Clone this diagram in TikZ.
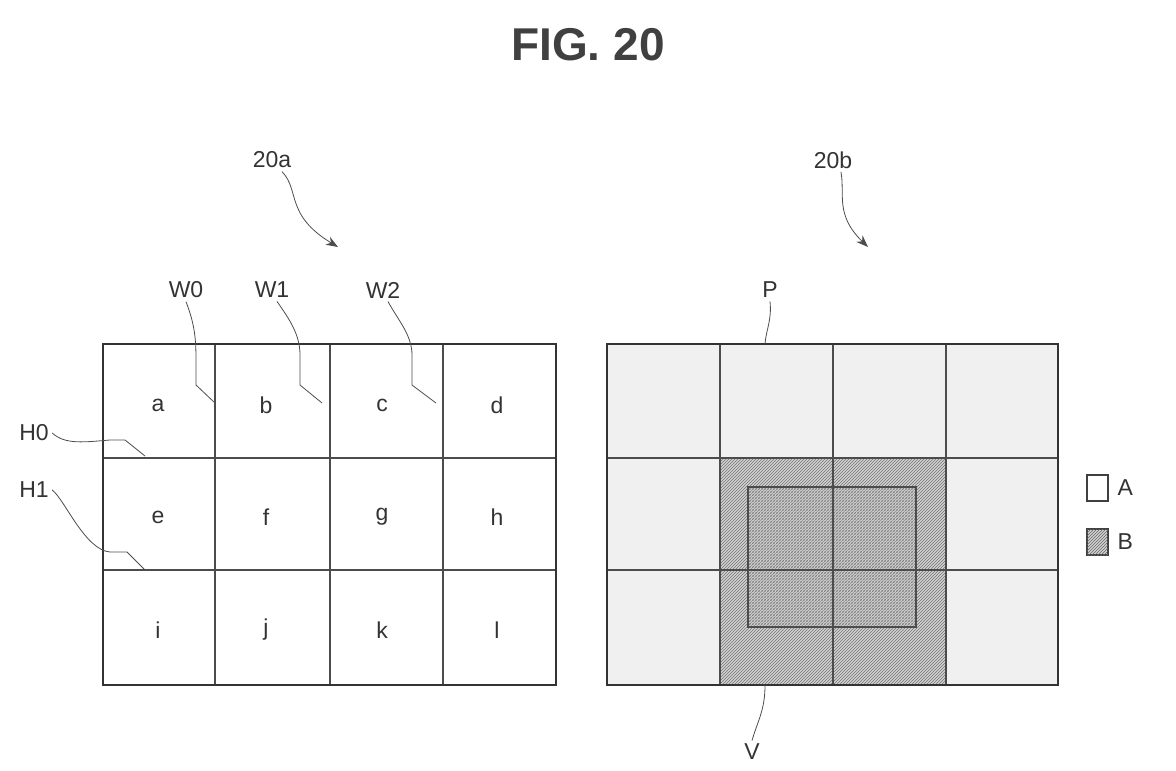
\documentclass[tikz,border=0pt]{standalone}
\usepackage{fontspec}
\setmainfont{Liberation Sans}
\usetikzlibrary{patterns,arrows.meta}
\begin{document}
\begin{tikzpicture}[x=1pt,y=-1pt,
  frame/.style={line width=2.5pt,draw=black!80},
  grid/.style={line width=1.2pt,draw=black!70},
  lead/.style={line width=0.8pt,draw=black!70},
  lbl/.style={font=\fontsize{23}{23}\selectfont,text=black!80},
  cell/.style={font=\fontsize{23}{23}\selectfont,text=black!80}]
\useasboundingbox (0,0) rectangle (1176,771);
\node[font=\bfseries\fontsize{46}{46}\selectfont,text=black!75] (title) at (588,45) {FIG. 20};
% left grid
\draw[grid] (215,344) -- (215,685) (330,344) -- (330,685) (443,344) -- (443,685)
  (103,458) -- (556,458) (103,570) -- (556,570);
\draw[frame] (103,344) rectangle (556,685);
\foreach \t/\x/\y in {a/158/405,b/266/405,c/382/405,d/497/405,e/158/517,f/266/517,g/382/517,h/497/517,i/158/630,j/266/630,k/382/630,l/497/630}
  \node[cell] (c\t) at (\x,\y) {\t};
% right grid
\fill[gray!12] (607,344) rectangle (1058,685);
\fill[gray!35] (720,458) rectangle (946,685);
\fill[pattern=north east lines,pattern color=black!55] (720,458) rectangle (946,685);
\fill[pattern=north west lines,pattern color=black!35] (748,487) rectangle (916,627);
\draw[grid] (720,344) -- (720,685) (833,344) -- (833,685) (946,344) -- (946,685)
  (607,458) -- (1058,458) (607,570) -- (1058,570);
\draw[grid,line width=2pt] (748,487) rectangle (916,627);
\draw[frame] (607,344) rectangle (1058,685);
% legend
\draw[line width=1.5pt,draw=black!75,fill=white] (1087,475) rectangle (1108,501);
\node[lbl,anchor=west] (lA) at (1114,488) {A};
\draw[line width=1.5pt,draw=black!75,fill=gray!35] (1087,529) rectangle (1108,555);
\fill[pattern=north east lines,pattern color=black!60] (1087,529) rectangle (1108,555);
\node[lbl,anchor=west] (lB) at (1114,542) {B};
% reference labels
\node[lbl] (n20a) at (272,160) {20a};
\node[lbl] (n20b) at (833,160) {20b};
\coordinate (a20a) at (338,247);
\coordinate (a20b) at (868,247);
\draw[lead,-{Stealth[length=12pt,width=9pt]}] (n20a.south) ++(10,0) .. controls (300,190) and (285,215) .. (a20a);
\draw[lead,-{Stealth[length=12pt,width=9pt]}] (n20b.south) ++(8,0) .. controls (845,195) and (835,215) .. (a20b);
\node[lbl] (W0) at (186,290) {W0};
\node[lbl] (W1) at (272,290) {W1};
\node[lbl] (W2) at (383,290) {W2};
\coordinate (w0e) at (215,403); \coordinate (w1e) at (322,403); \coordinate (w2e) at (436,403);
\draw[lead] (W0.south) .. controls (195,325) and (196,340) .. (196,360) -- (196,385) -- (w0e);
\draw[lead] (W1.south) ++(5,0) .. controls (290,320) and (300,335) .. (300,355) -- (300,385) -- (w1e);
\draw[lead] (W2.south) ++(5,0) .. controls (398,320) and (412,335) .. (412,355) -- (412,385) -- (w2e);
\node[lbl] (H0) at (34,433) {H0};
\node[lbl] (H1) at (34,490) {H1};
\coordinate (h0e) at (145,456); \coordinate (h1e) at (145,570);
\draw[lead] (H0.east) .. controls (65,445) and (85,442) .. (110,440) -- (125,440) -- (h0e);
\draw[lead] (H1.east) .. controls (65,500) and (85,550) .. (110,552) -- (127,552) -- (h1e);
\node[lbl] (P) at (770,290) {P};
\coordinate (pe) at (765,344);
\draw[lead] (P.south) .. controls (772,320) and (766,330) .. (pe);
\node[lbl] (V) at (752,752) {V};
\coordinate (ve) at (765,685);
\draw[lead] (ve) .. controls (765,710) and (758,720) .. (V.north);
\end{tikzpicture}
\end{document}
